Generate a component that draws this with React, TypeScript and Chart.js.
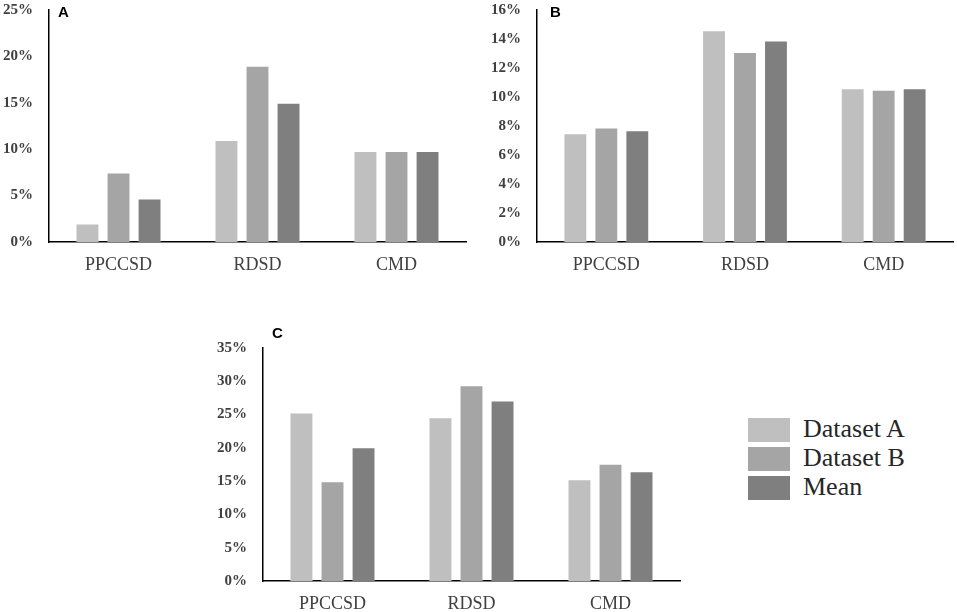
import { useEffect, useRef } from 'react';
import { Chart, registerables } from 'chart.js';

Chart.register(...registerables);

const categories = ['PPCCSD', 'RDSD', 'CMD'];
const seriesNames = ['Dataset A', 'Dataset B', 'Mean'];
const seriesColors = ['#bfbfbf', '#a5a5a5', '#7f7f7f'];

// panel A
const aDatasetA = [2.0, 11.0, 9.8];
const aDatasetB = [7.5, 19.0, 9.8];
const aMean = [4.7, 15.0, 9.8];

// panel B
const bDatasetA = [7.5, 14.6, 10.6];
const bDatasetB = [7.9, 13.1, 10.5];
const bMean = [7.7, 13.9, 10.6];

// panel C
const cDatasetA = [25.3, 24.6, 15.3];
const cDatasetB = [15.0, 29.4, 17.6];
const cMean = [20.1, 27.1, 16.5];

const SERIF = '"Liberation Serif", "Times New Roman", serif';
const SANS = '"Liberation Sans", Arial, sans-serif';
const TEXT = '#404040';

type Area = { left: number; top: number; right: number; bottom: number };

type PanelProps = {
  series: number[][];
  max: number;
  step: number;
  x: number;
  y: number;
  width: number;
  height: number;
  area: Area;
};

function BarPanel({ series, max, step, x, y, width, height, area }: PanelProps) {
  const canvasRef = useRef<HTMLCanvasElement>(null);

  useEffect(() => {
    const canvas = canvasRef.current;
    if (!canvas) return;

    const chart = new Chart(canvas, {
      type: 'bar',
      data: {
        labels: categories,
        datasets: series.map((values, i) => ({
          label: seriesNames[i],
          data: values,
          backgroundColor: seriesColors[i],
          borderColor: 'rgba(255, 255, 255, 0.35)',
          borderWidth: 1,
          categoryPercentage: 0.67,
          barPercentage: 0.77,
        })),
      },
      options: {
        responsive: true,
        maintainAspectRatio: false,
        animation: false,
        layout: {
          padding: { top: area.top, right: width - area.right, left: 0, bottom: 0 },
        },
        plugins: {
          legend: { display: false },
          tooltip: { enabled: false },
        },
        scales: {
          x: {
            grid: { display: false, drawTicks: false },
            border: { display: true, color: '#000', width: 1.5 },
            ticks: {
              color: TEXT,
              padding: 12,
              font: { family: SERIF, size: 18 },
            },
            afterFit: (scale) => {
              scale.height = height - area.bottom;
            },
          },
          y: {
            min: 0,
            max,
            // hidden tick marks give the label gap without padding the top
            grid: { display: false, drawTicks: true, tickLength: 16 },
            border: { display: true, color: '#000', width: 1.5 },
            ticks: {
              stepSize: step,
              color: TEXT,
              padding: 0,
              font: { family: SERIF, size: 15, weight: 'bold' },
              callback: (v) => `${v}%`,
            },
            afterFit: (scale) => {
              scale.width = area.left;
            },
          },
        },
      },
    });

    return () => chart.destroy();
  }, [series, max, step, width, height, area]);

  return (
    <div style={{ position: 'absolute', left: x, top: y, width, height }}>
      <canvas ref={canvasRef} />
    </div>
  );
}

const panelLetter = (text: string, left: number, top: number) => (
  <div
    style={{
      position: 'absolute',
      left,
      top,
      fontFamily: SANS,
      fontWeight: 'bold',
      fontSize: 15,
      lineHeight: '15px',
      color: '#000',
    }}
  >
    {text}
  </div>
);

export default function App() {
  return (
    <div
      style={{
        position: 'absolute',
        left: 0,
        top: 0,
        width: 957,
        height: 612,
        overflow: 'hidden',
        background: '#fff',
      }}
    >
      <BarPanel
        series={[aDatasetA, aDatasetB, aMean]}
        max={25}
        step={5}
        x={0}
        y={0}
        width={478}
        height={290}
        area={{ left: 49, top: 10, right: 466, bottom: 242 }}
      />
      <BarPanel
        series={[bDatasetA, bDatasetB, bMean]}
        max={16}
        step={2}
        x={478}
        y={0}
        width={479}
        height={290}
        area={{ left: 59, top: 10, right: 475, bottom: 242 }}
      />
      <BarPanel
        series={[cDatasetA, cDatasetB, cMean]}
        max={35}
        step={5}
        x={200}
        y={320}
        width={490}
        height={292}
        area={{ left: 63, top: 28, right: 480, bottom: 261 }}
      />
      {panelLetter('A', 58, 4)}
      {panelLetter('B', 550, 4)}
      {panelLetter('C', 272, 325)}
      {seriesNames.map((name, i) => (
        <div key={name}>
          <div
            style={{
              position: 'absolute',
              left: 748,
              top: 418 + i * 29.2,
              width: 42,
              height: 24,
              background: seriesColors[i],
            }}
          />
          <div
            style={{
              position: 'absolute',
              left: 803,
              top: 417 + i * 29.2,
              height: 24,
              lineHeight: '24px',
              fontFamily: SERIF,
              fontSize: 26,
              color: '#262626',
              whiteSpace: 'nowrap',
            }}
          >
            {name}
          </div>
        </div>
      ))}
    </div>
  );
}
